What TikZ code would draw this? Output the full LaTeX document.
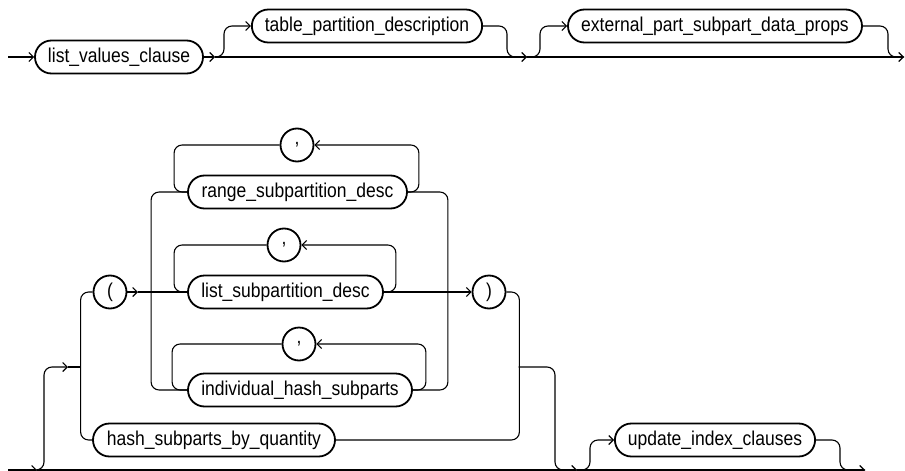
\documentclass[tikz,border=0pt]{standalone}
\usepackage{fontspec}
\setmainfont{Liberation Sans}[FakeStretch=0.875]
\usetikzlibrary{arrows.meta}

\begin{document}
\begin{tikzpicture}[
  x=1pt, y=-1pt,
  every node/.style={font=\fontsize{20}{22}\selectfont},
  term/.style={draw, line width=1.8pt, rounded corners=16.5pt,
               minimum height=33pt, inner xsep=13pt, inner ysep=0pt},
  sym/.style={draw, line width=1.8pt, circle, minimum size=33pt, inner sep=0pt},
  conn/.style={line width=1.1pt, rounded corners=8pt},
  arr/.style={-{Straight Barb[length=4.5pt,width=9pt]}},
]
\useasboundingbox (0,0) rectangle (905,471);
\node[term, minimum width=168pt] (lvc) at (119,57)   {list\_values\_clause};
\node[term, minimum width=230pt] (tpd) at (367,26)   {table\_partition\_description};
\node[term, minimum width=294pt] (ext) at (715,26)   {external\_part\_subpart\_data\_props};
\node[sym] (lpar) at (110,292) {(};
\node[term, minimum width=219pt] (rsd) at (297.5,192) {range\_subpartition\_desc};
\node[term, minimum width=195pt] (lsd) at (285.5,292) {list\_subpartition\_desc};
\node[term, minimum width=224pt] (ihs) at (300,390)   {individual\_hash\_subparts};
\node[term, minimum width=242pt] (hsq) at (214,440)   {hash\_subparts\_by\_quantity};
\node[sym] (c1) at (297,145) {,};
\node[sym] (c2) at (284,245) {,};
\node[sym] (c3) at (299,344) {,};
\node[sym] (rpar) at (489,292) {)};
\node[term, minimum width=200pt] (uic) at (715,440)   {update\_index\_clauses};
\coordinate (in) at (8,57);
\coordinate (j1) at (215,57);
\coordinate (j2) at (527,57);
\coordinate (out) at (904,57);
\coordinate (bin) at (8,470);
\coordinate (b1) at (37,470);
\coordinate (b2) at (577,470);
\coordinate (bout) at (865,470);
\coordinate (ga) at (68,367);
\coordinate (gv) at (81,367);
\coordinate (p1) at (138,292);
\coordinate (rv) at (518.5,367);
\draw[conn,arr] (in) -- (lvc.west);
\draw[conn,arr] (lvc.east) -- (j1);
\draw[conn,arr] (j1) -- (j2);
\draw[conn,arr] (j2) -- (out);
\draw[conn,arr] (j1) -- ++(9,0) |- (tpd.west);
\draw[conn] (tpd.east) -| ([xshift=-20pt]j2) -- (j2);
\draw[conn,arr] (j2) -- ++(13,0) |- (ext.west);
\draw[conn] (ext.east) -| ([xshift=-16pt]out) -- (out);
\draw[conn,arr] (bin) -- (b1);
\draw[conn,arr] (b1) -- (b2);
\draw[conn,arr] (b2) -- (bout);
\draw[conn,arr] (b1) -- ++(7,0) |- (ga);
\draw[conn] (ga) -- (gv);
\draw[conn] (lpar.west) -- ++(-12,0) |- (hsq.west);
\draw[conn,arr] (lpar.east) -- (p1);
\draw[conn] (p1) -- (lsd.west);
\draw[conn] (rsd.west) -- ++(-36,0) |- (ihs.west);
\draw[conn] (rsd.east) -- ++(40,0) |- (ihs.east);
\draw[conn,arr] (rsd.east) -- ++(11,0) |- (c1.east);
\draw[conn] (c1.west) -| ([xshift=-13pt]rsd.west) -- (rsd.west);
\draw[conn,arr] (lsd.east) -- ++(12,0) |- (c2.east);
\draw[conn] (c2.west) -| ([xshift=-13pt]lsd.west) -- (lsd.west);
\draw[conn,arr] (ihs.east) -- ++(13,0) |- (c3.east);
\draw[conn] (c3.west) -| ([xshift=-15pt]ihs.west) -- (ihs.west);
\draw[conn,arr] (lsd.east) -- (rpar.west);
\draw[conn] (rpar.east) -- ++(13,0) |- (hsq.east);
\draw[conn] (rv) -| ([xshift=-22pt]b2) -- (b2);
\draw[conn,arr] (b2) -- ++(13,0) |- (uic.west);
\draw[conn] (uic.east) -| ([xshift=-25pt]bout) -- (bout);
\end{tikzpicture}
\end{document}
